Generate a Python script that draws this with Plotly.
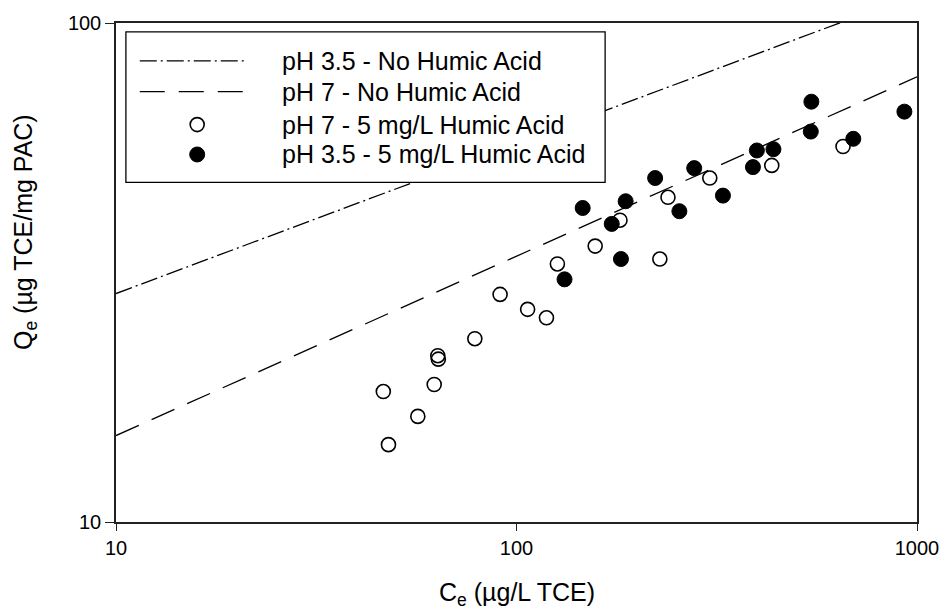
import plotly.graph_objects as go

# Freundlich isotherm fits (no humic acid), given by their end points
fit_x = [10, 1000]
fit_ph35_y = [28.7, 114.3]
fit_ph7_y = [14.9, 78.0]

# pH 7 with 5 mg/L humic acid
ph7_ha_ce = [47.9, 46.5, 56.7, 62.3, 63.6, 63.8, 78.7, 91.0, 106.6, 118.8,
             126.5, 157.2, 181.3, 228.0, 238.9, 303.8, 433.9, 653.6]
ph7_ha_qe = [14.29, 18.26, 16.28, 18.86, 21.54, 21.20, 23.30, 28.58, 26.68, 25.66,
             32.89, 35.72, 40.25, 33.65, 44.74, 48.90, 51.83, 56.56]

# pH 3.5 with 5 mg/L humic acid
ph35_ha_ce = [131.8, 146.3, 172.9, 182.3, 187.3, 221.9, 255.1, 277.8, 327.7, 389.4,
              398.3, 438.1, 544.8, 543.0, 693.4, 930.1]
ph35_ha_qe = [30.64, 42.59, 39.57, 33.65, 43.93, 48.90, 41.96, 51.19, 45.09, 51.43,
              55.53, 55.86, 69.55, 60.59, 58.60, 66.43]

x_ticks = [10, 100, 1000]
x_tick_text = ["10", "100", "1000"]
y_ticks = [10, 100]
y_tick_text = ["10", "100"]

legend_labels = ["pH 3.5 - No Humic Acid", "pH 7 - No Humic Acid",
                 "pH 7 - 5 mg/L Humic Acid", "pH 3.5 - 5 mg/L Humic Acid"]

FONT = "Liberation Sans, Arial, sans-serif"
DASHDOT = "17px,4px,2px,4px"
DASH = "25px,14px"

fig = go.Figure()
fig.add_trace(go.Scatter(x=fit_x, y=fit_ph35_y, mode="lines",
                         line=dict(color="black", width=1.3, dash=DASHDOT),
                         showlegend=False, name=legend_labels[0]))
fig.add_trace(go.Scatter(x=fit_x, y=fit_ph7_y, mode="lines",
                         line=dict(color="black", width=1.3, dash=DASH),
                         showlegend=False, name=legend_labels[1]))
fig.add_trace(go.Scatter(x=ph7_ha_ce, y=ph7_ha_qe, mode="markers",
                         marker=dict(symbol="circle-open", size=14, color="black",
                                     line=dict(width=1.6, color="black")),
                         showlegend=False, name=legend_labels[2]))
fig.add_trace(go.Scatter(x=ph35_ha_ce, y=ph35_ha_qe, mode="markers",
                         marker=dict(symbol="circle", size=15, color="black",
                                     line=dict(width=1, color="black")),
                         showlegend=False, name=legend_labels[3]))

W, H = 951, 614
ML, MR, MT, MB = 116, 26, 21, 92
PW, PH = W - ML - MR, H - MT - MB


def px(xp):
    return (xp - ML) / PW


def py(yp):
    return (H - MB - yp) / PH


shapes = []
annotations = []

# legend box
shapes.append(dict(type="rect", xref="paper", yref="paper",
                   x0=px(126), x1=px(610), y0=py(181), y1=py(30),
                   line=dict(color="black", width=1.3), fillcolor="white", layer="above"))
rows = [59, 90, 123, 153]
shapes.append(dict(type="line", xref="paper", yref="paper", x0=px(140), x1=px(247),
                   y0=py(rows[0]), y1=py(rows[0]),
                   line=dict(color="black", width=1.3, dash=DASHDOT), layer="above"))
shapes.append(dict(type="line", xref="paper", yref="paper", x0=px(140), x1=px(247),
                   y0=py(rows[1]), y1=py(rows[1]),
                   line=dict(color="black", width=1.3, dash=DASH), layer="above"))
shapes.append(dict(type="circle", xref="paper", yref="paper",
                   xsizemode="pixel", ysizemode="pixel",
                   xanchor=px(198), yanchor=py(rows[2]),
                   x0=-7, x1=7, y0=-7, y1=7,
                   line=dict(color="black", width=1.6), fillcolor="rgba(0,0,0,0)", layer="above"))
shapes.append(dict(type="circle", xref="paper", yref="paper",
                   xsizemode="pixel", ysizemode="pixel",
                   xanchor=px(198), yanchor=py(rows[3]),
                   x0=-7.5, x1=7.5, y0=-7.5, y1=7.5,
                   line=dict(color="black", width=1), fillcolor="black", layer="above"))
for label, r in zip(legend_labels, rows):
    annotations.append(dict(text=label, xref="paper", yref="paper",
                            x=px(282), y=py(r), xanchor="left", yanchor="middle",
                            showarrow=False, font=dict(family=FONT, size=25, color="black")))

# axis titles
annotations.append(dict(text="C<sub>e</sub> (µg/L TCE)", xref="paper", yref="paper",
                        x=0.5, y=py(594), xanchor="center", yanchor="middle",
                        showarrow=False, font=dict(family=FONT, size=25, color="black")))
annotations.append(dict(text="Q<sub>e</sub> (µg TCE/mg PAC)", xref="paper", yref="paper",
                        x=px(24), y=py(231), xanchor="center", yanchor="middle",
                        textangle=-90, showarrow=False,
                        font=dict(family=FONT, size=25, color="black")))

axis_common = dict(type="log", showgrid=False, zeroline=False, showline=True,
                   linecolor="#222", linewidth=1.5, mirror=True, ticks="outside",
                   tickcolor="#222", tickwidth=1.3,
                   tickfont=dict(family=FONT, size=20, color="black"))

fig.update_layout(
    width=W, height=H,
    margin=dict(l=ML, r=MR, t=MT, b=MB),
    paper_bgcolor="white", plot_bgcolor="white",
    showlegend=False,
    xaxis=dict(range=[1, 3], tickvals=x_ticks, ticktext=x_tick_text, ticklen=7, **axis_common),
    yaxis=dict(range=[1, 2], tickvals=y_ticks, ticktext=y_tick_text, ticklen=9, **axis_common),
    shapes=shapes,
    annotations=annotations,
)

fig.write_html("out.html")
